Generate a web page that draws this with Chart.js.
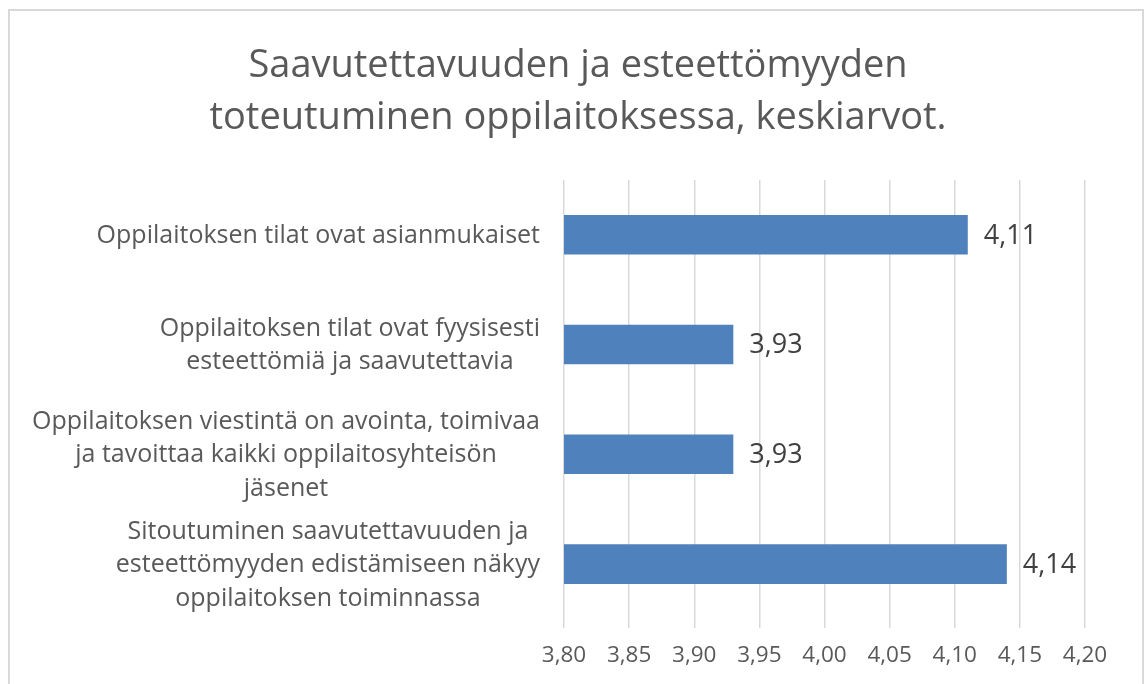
<!DOCTYPE html>
<html>
<head>
<meta charset="utf-8">
<script src="https://cdn.jsdelivr.net/npm/chart.js@4.4.1/dist/chart.umd.min.js"></script>
<style>
  html, body { margin: 0; padding: 0; background: #fff; }
  #wrap { position: relative; width: 1147px; height: 684px; overflow: hidden; }
  #frame { position: absolute; left: 8px; top: 9px; width: 1136px; height: 700px; border: 2px solid #d9d9d9; box-sizing: border-box; }
  canvas { position: absolute; left: 0; top: 0; }
</style>
</head>
<body>
<div id="wrap">
  <div id="frame"></div>
  <canvas id="myChart" width="1147" height="684"></canvas>
</div>
<script>
var titleLines = ['Saavutettavuuden ja esteettömyyden', 'toteutuminen oppilaitoksessa, keskiarvot.'];

var categories = [
  ['Oppilaitoksen tilat ovat asianmukaiset'],
  ['Oppilaitoksen tilat ovat fyysisesti', 'esteettömiä ja saavutettavia'],
  ['Oppilaitoksen viestintä on avointa, toimivaa', 'ja tavoittaa kaikki oppilaitosyhteisön', 'jäsenet'],
  ['Sitoutuminen saavutettavuuden ja', 'esteettömyyden edistämiseen näkyy', 'oppilaitoksen toiminnassa']
];
var averages = [4.11, 3.93, 3.93, 4.14];

var axisMin = 3.80;
var axisMax = 4.20;
var axisStep = 0.05;

var fontName = '"Open Sans", Lato, sans-serif';
var grey = '#595959';

function fi(v) {
  return v.toFixed(2).replace('.', ',');
}

// category labels: each one centred on itself, block pushed to the right like Excel
var catLabels = {
  id: 'catLabels',
  afterDraw: function(chart) {
    var ctx = chart.ctx;
    var yScale = chart.scales.y;
    var right = chart.chartArea.left - 24;
    var lh = 33.5;
    ctx.save();
    ctx.font = '25px ' + fontName;
    ctx.fillStyle = grey;
    ctx.textAlign = 'center';
    ctx.textBaseline = 'middle';
    categories.forEach(function(lines, i) {
      var w = 0;
      lines.forEach(function(l) { w = Math.max(w, ctx.measureText(l).width); });
      var cx = right - w / 2;
      var cy = yScale.getPixelForValue(i) + 1;
      var y0 = cy - (lines.length - 1) * lh / 2;
      lines.forEach(function(l, k) {
        ctx.fillText(l, cx, y0 + k * lh);
      });
    });
    ctx.restore();
  }
};

// value labels at the end of each bar
var valueLabels = {
  id: 'valueLabels',
  afterDatasetsDraw: function(chart) {
    var ctx = chart.ctx;
    var meta = chart.getDatasetMeta(0);
    ctx.save();
    ctx.font = '27px ' + fontName;
    ctx.fillStyle = '#404040';
    ctx.textAlign = 'left';
    ctx.textBaseline = 'middle';
    meta.data.forEach(function(bar, i) {
      ctx.fillText(fi(averages[i]), bar.x + 16, bar.y + 1);
    });
    ctx.restore();
  }
};

var ctx = document.getElementById('myChart').getContext('2d');
var mychart = new Chart(ctx, {
  type: 'bar',
  data: {
    labels: categories,
    datasets: [{
      data: averages,
      backgroundColor: '#4f81bd',
      borderWidth: 0,
      barPercentage: 0.72,
      categoryPercentage: 0.5
    }]
  },
  options: {
    indexAxis: 'y',
    responsive: false,
    animation: false,
    layout: { padding: { top: 40, right: 62, left: 71, bottom: 0 } },
    plugins: {
      legend: { display: false },
      tooltip: { enabled: false },
      title: {
        display: true,
        text: titleLines,
        color: grey,
        font: { family: fontName, size: 38, weight: 'normal', lineHeight: 1.368 },
        padding: { top: 0, bottom: 36 }
      }
    },
    scales: {
      x: {
        type: 'linear',
        min: axisMin,
        max: axisMax,
        border: { display: false },
        grid: { color: '#d9d9d9', lineWidth: 1.5, tickLength: 9, drawTicks: true },
        ticks: {
          stepSize: axisStep,
          color: grey,
          padding: 14,
          font: { family: fontName, size: 22.5 },
          callback: function(v) { return fi(v); }
        },
        afterFit: function(s) { s.height = 65; }
      },
      y: {
        border: { display: false },
        grid: { display: false },
        ticks: { display: false },
        afterFit: function(s) { s.width = 493; }
      }
    }
  },
  plugins: [catLabels, valueLabels]
});
</script>
</body>
</html>
